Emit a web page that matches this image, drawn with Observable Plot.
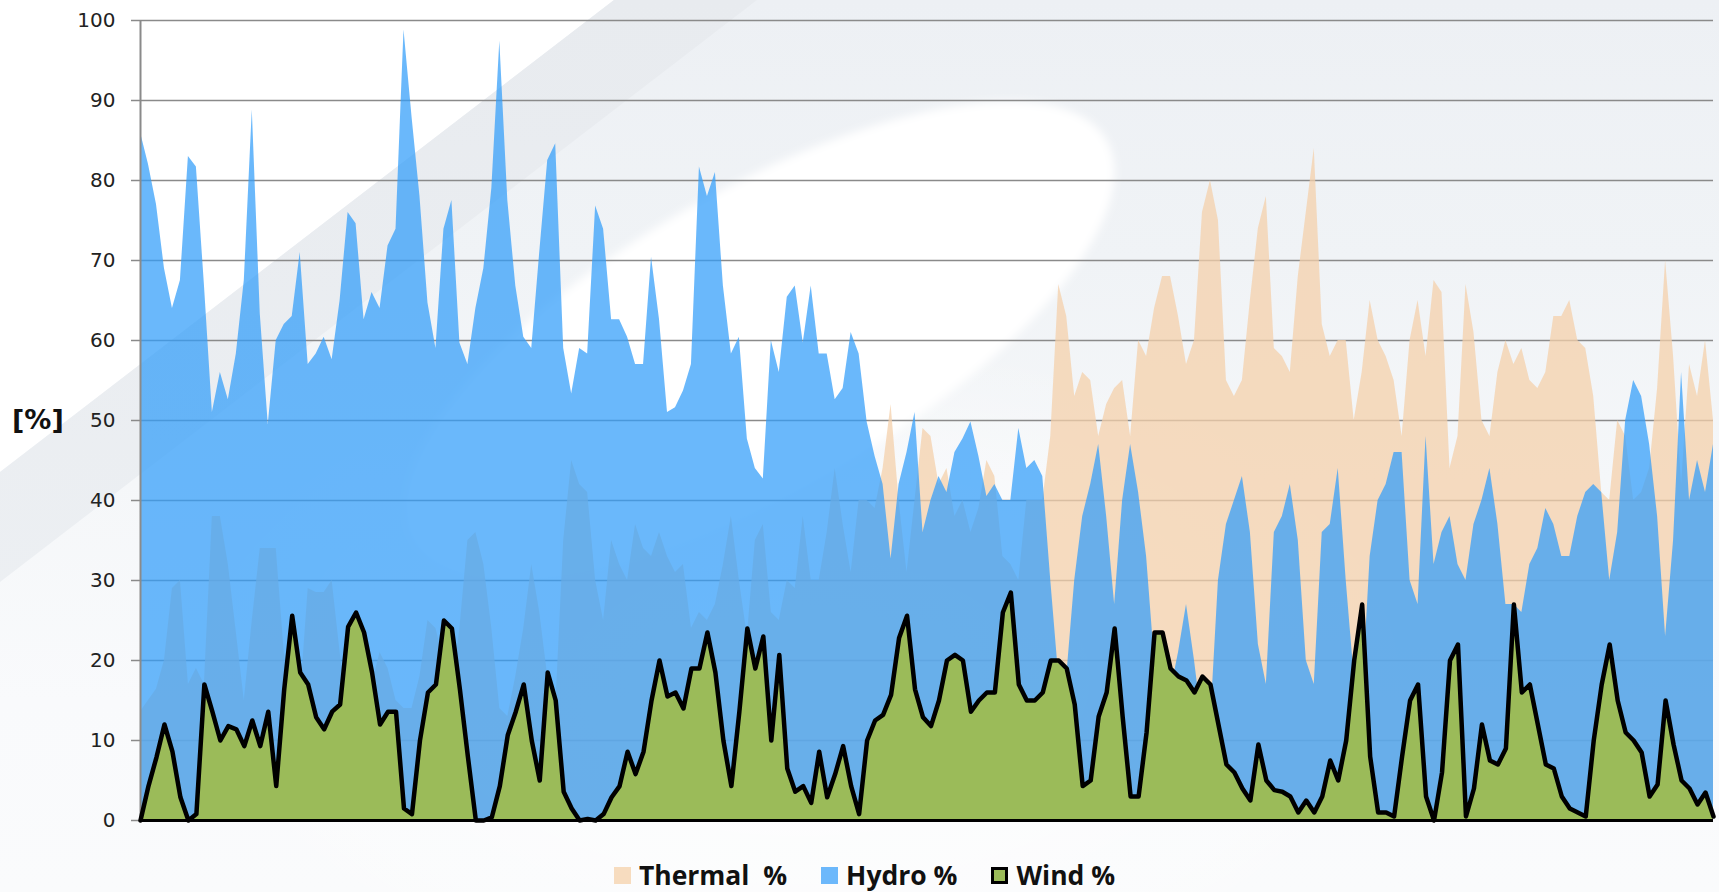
<!DOCTYPE html>
<html>
<head>
<meta charset="utf-8">
<script src="https://cdn.jsdelivr.net/npm/d3@7"></script>
<script src="https://cdn.jsdelivr.net/npm/@observablehq/plot@0.6"></script>
<style>
  html, body { margin: 0; padding: 0; }
  body { width: 1719px; height: 892px; overflow: hidden; }
  #wrap {
    position: relative; width: 1719px; height: 892px; overflow: hidden;
    background: linear-gradient(to bottom, #edf0f4 0px, #f0f3f6 260px, #f5f7f9 480px, #f9fafc 700px, #fafbfc 892px);
  }
  .deco { position: absolute; left: 0; top: 0; width: 1719px; height: 892px; }
  #tri { background: #ffffff; clip-path: polygon(0 0, 614px 0, 0 472px); }
  #band { background: linear-gradient(to bottom, #e8ebef, #eef1f4); clip-path: polygon(614px 0, 757px 0, 0 582px, 0 472px); }
  #ell { position: absolute; left: 360px; top: 190px; width: 800px; height: 300px; border-radius: 50%;
         background: #ffffff; transform: rotate(-30deg); filter: blur(4px); }
  #ell2 { position: absolute; left: 150px; top: 330px; width: 1300px; height: 700px; border-radius: 50%;
         background: radial-gradient(closest-side, rgba(255,255,255,0.9), rgba(255,255,255,0)); }
  #chart { position: absolute; left: 0; top: 0; }
  #ylab { position: absolute; left: 12px; top: 404px; font: bold 27px "DejaVu Sans", sans-serif; color: #111; }
  #legend { position: absolute; left: 10px; top: 862px; width: 1709px; height: 26px; display: flex; justify-content: center; align-items: center;
            font: bold 26.5px "Open Sans", sans-serif; line-height: 26px; color: #111; gap: 34px; }
  .item { display: flex; align-items: center; gap: 8px; height: 26px; }
  .sw { width: 17px; height: 17px; box-sizing: border-box; }
</style>
</head>
<body>
<div id="wrap">
  <div id="ell2"></div>
  <div class="deco" id="tri"></div>
  <div class="deco" id="band"></div>
  <div id="ell"></div>
  <div id="chart"></div>
  <div id="ylab">[%]</div>
  <div id="legend"></div>
</div>
<script>
// Series values at even steps along the x axis
const thermal = [
  13.6,15,16.4,20,29,30,17,19,17,38,38,32,23.5,15,25,34,34,34,21,14,
  15,29,28.5,28.5,30,21,13,12,14,17,21,19,15,14,14,18,25,24,20,16,
  24,35,36,32,24,14,13,18,24,32,26,18,14,35,45,42,41,30,25,35,
  32,30,37,34,33,36,33,31,32,24,26,25,27,32,38,30,23,35,37,26,
  25,30,29,38,30,30,36,44,37,31,40,40,39,44,52,40,31,40,49,48,
  42,44,38,40,36,39,45,43,33,32,30,40,40,40,48,67,63,53,56,55,
  48,52,54,55,48,60,58,64,68,68,63,57,60,76,80,75,55,53,55,65,
  74,78,59,58,56,68,76,84,62,58,60,60,50,56,65,60,58,55,48,60,
  65,58,67.5,66,44,48,67,61,50,48,56,60,57,59,55,54,56,63,63,65,
  60,59,53,41,40,50,48,40,41,44,54,70,58,42,57,53,60,50
];
const hydro = [
  86,82,77,69,64,67.5,83,81.7,67,51,56,52.6,58.3,67.5,88.8,63.3,49.5,60,62,63,
  71,57,58.3,60.4,57.6,65,76,74.6,62.6,66,64,71.8,73.9,98.8,88,78,64.7,59,73.9,77.5,
  59.7,57,64,69,79,97.4,77.5,66.8,60.4,59,71,82.5,84.6,59,53.3,59,58.3,76.8,73.9,62.6,
  62.6,60.4,57,57,70.4,62.6,51,51.6,53.7,57,81.7,78,81,66.8,58.3,60.4,47.7,44,42.7,60,
  56,65.4,66.8,59.7,66.8,58.3,58.3,52.6,54,61,58.3,49.8,45.5,42,32.7,42,46,51,36,40,
  43,41,46,47.7,49.8,45.5,40.5,42,40,40,49,44,45,43,30,18,18,30,38,42,
  47,38,27,40,47,41,33,20,17,16,21,27,20,12,12,30,37,40,43,36,
  22,17,36,38,42,35,20,17,36,37,44,30,18,15,33,40,42,46,46,30,
  27,48,32,36,38,32,30,37,40,44,37,27,27,26,32,34,39,37,33,33,
  38,41,42,41,30,36,50,55,53,47,38,23,35,56,40,45,41,47
];
const wind = [
  0,4.3,7.9,12,8.6,2.9,0,0.8,17,13.6,10,11.8,11.4,9.3,12.5,9.3,13.6,4.3,16.4,25.6,
  18.5,17,12.9,11.4,13.6,14.5,24.2,26,23.5,18.5,12,13.6,13.6,1.5,0.8,10,16,17,25,24,
  16.4,8,0,0,0.4,4.3,10.7,13.6,17,10,5,18.5,15,3.6,1.5,0,0.2,0,0.8,2.9,
  4.3,8.6,5.8,8.6,15,20,15.5,16,14,19,19,23.5,18.5,10,4.3,13.6,24,19,23,10,
  20.7,6.5,3.6,4.3,2.2,8.6,2.9,5.8,9.3,4.3,0.8,10,12.5,13.2,15.7,22.8,25.6,16.4,12.9,11.8,
  15,20,20.7,20,13.6,15,16,16,26,28.5,17,15,15,16,20,20,19,14.5,4.3,5,
  13,16,24,13,3,3,11,23.5,23.5,19,18,17.5,16,18,17,12,7,6,4,2.5,
  9.5,5,3.8,3.6,3,1,2.5,1,3,7.5,5,10,20,27,8,1,1,0.5,8,15,
  17,3,0,6,20,22,0.5,4,12,7.5,7,9,27,16,17,12,7,6.5,3,1.5,
  1,0.5,10,17,22,15,11,10,8.5,3,4.5,15,9.5,5,4,2,3.5,0.5
];
const yTicks = [0,10,20,30,40,50,60,70,80,90,100];
const legendItems = ["Thermal  %", "Hydro %", "Wind %"];

const n = wind.length;
const idx = d3.range(n);
const thermalColor = "rgb(244,208,170)";
const hydroColor = "rgb(51,158,249)";
const windColor = "#9bbb59";

const chart = Plot.plot({
  width: 1719,
  height: 848,
  marginLeft: 140,
  marginRight: 6,
  marginTop: 20,
  marginBottom: 28,
  style: { background: "transparent", fontFamily: "DejaVu Sans, sans-serif", fontSize: "20px", color: "#222" },
  x: { domain: [0, n - 1], axis: null },
  y: { domain: [0, 100] },
  marks: [
    Plot.axisY({ ticks: yTicks, tickSize: 9, tickPadding: 16, label: null, stroke: "#8a8a8a", strokeWidth: 1.5 }),
    Plot.gridY({ ticks: yTicks.slice(1), stroke: "#8a8a8a", strokeOpacity: 1, strokeWidth: 1.4 }),
    Plot.areaY(idx, { x: d => d, y: i => thermal[i], fill: thermalColor, fillOpacity: 0.74 }),
    Plot.areaY(idx, { x: d => d, y: i => hydro[i], fill: hydroColor, fillOpacity: 0.73 }),
    Plot.ruleX([0], { stroke: "#8a8a8a", strokeWidth: 2 }),
    Plot.areaY(idx, { x: d => d, y: i => wind[i], fill: windColor }),
    Plot.lineY(idx, { x: d => d, y: i => wind[i], stroke: "#000", strokeWidth: 4.5, strokeLinejoin: "round" }),
    Plot.ruleY([0], { stroke: "#000", strokeWidth: 3 })
  ]
});
document.getElementById("chart").appendChild(chart);

const legendColors = [
  { bg: "#f7dcbf", border: "none" },
  { bg: "#6cb8fb", border: "none" },
  { bg: windColor, border: "3px solid #000" }
];
const legend = document.getElementById("legend");
legendItems.forEach((label, k) => {
  const it = document.createElement("div");
  it.className = "item";
  const sw = document.createElement("div");
  sw.className = "sw";
  sw.style.background = legendColors[k].bg;
  sw.style.border = legendColors[k].border;
  const tx = document.createElement("span");
  tx.style.whiteSpace = "pre";
  tx.textContent = label;
  it.appendChild(sw); it.appendChild(tx);
  legend.appendChild(it);
});
</script>
</body>
</html>
